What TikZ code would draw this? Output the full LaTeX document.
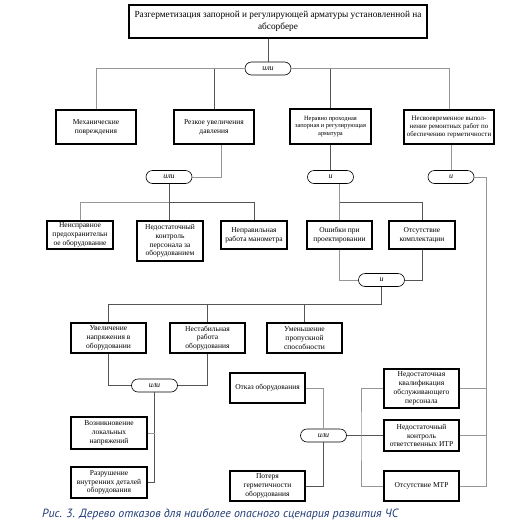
\documentclass[tikz,border=0pt]{standalone}
\usepackage{fontspec}
\setmainfont{Liberation Serif}
\newfontfamily\capfont{PT Sans}
\usetikzlibrary{calc}
\definecolor{capblue}{RGB}{32,58,118}
\definecolor{lnd}{RGB}{85,85,85}
\definecolor{lnl}{RGB}{150,150,150}
\begin{document}
\begin{tikzpicture}[x=1pt,y=-1pt,
  bx/.style={draw=black,line width=1.3pt,align=center,inner sep=1pt,font=\fontsize{7.5}{8.8}\selectfont},
  sbx/.style={bx,font=\fontsize{6.4}{7.4}\selectfont},
  gate/.style={draw=black,line width=0.6pt,rounded corners=6.5pt,minimum width=46pt,minimum height=13pt,inner sep=0pt,font=\fontsize{8}{8}\selectfont\itshape},
  cd/.style={draw=lnd,line width=0.9pt},
  cl/.style={draw=lnl,line width=0.9pt}]
\useasboundingbox (0,0) rectangle (509,528);
% top
\node[bx,minimum width=298pt,minimum height=33pt,font=\fontsize{9.3}{12}\selectfont] (top) at (278,21.5)
  {Разгерметизация запорной и регулирующей арматуры установленной на\\абсорбере};
\node[gate] (g1) at (268,68.5) {или};
% level 1
\node[bx,minimum width=80pt,minimum height=34pt] (b1) at (96,127) {Механические\\повреждения};
\node[bx,minimum width=80pt,minimum height=34pt] (b2) at (214,127) {Резкое увеличения\\давления};
\node[sbx,minimum width=81pt,minimum height=35pt] (b3) at (330.5,126.5) {Неравно проходная\\запорная и регулирующая\\арматура};
\node[sbx,minimum width=90pt,minimum height=34pt,font=\fontsize{6.9}{8}\selectfont] (b4) at (449,127) {Несвоевременное выпол-\\нение ремонтных работ по\\обеспечению герметичности};
% gates level 2
\node[gate] (g2) at (169,177) {или};
\node[gate] (g3) at (330.5,177) {и};
\node[gate] (g4) at (451,177) {и};
% level 2 boxes
\node[bx,minimum width=66pt,minimum height=28pt] (c1) at (80,235) {Неисправное\\предохранительн\\ое оборудование};
\node[bx,minimum width=66pt,minimum height=40pt] (c2) at (170,241) {Недостаточный\\контроль\\персонала за\\оборудованием};
\node[bx,minimum width=66pt,minimum height=28pt] (c3) at (254,235) {Неправильная\\работа манометра};
\node[bx,minimum width=65pt,minimum height=28pt] (c4) at (339.5,235) {Ошибки при\\проектировании};
\node[bx,minimum width=66pt,minimum height=28pt] (c5) at (422,235) {Отсутствие\\комплектации};
\node[gate] (g5) at (381.5,280) {и};
% level 3
\node[bx,minimum width=75pt,minimum height=30pt] (d1) at (108.5,338) {Увеличение\\напряжения в\\оборудовании};
\node[bx,minimum width=75pt,minimum height=30pt] (d2) at (207.5,338) {Нестабильная\\работа\\оборудования};
\node[bx,minimum width=75pt,minimum height=30pt] (d3) at (304.5,338) {Уменьшение\\пропускной\\способности};
\node[gate] (g6) at (154.5,385.5) {или};
\node[bx,minimum width=76pt,minimum height=32pt] (e1) at (109,433) {Возникновение\\локальных\\напряжений};
\node[bx,minimum width=76pt,minimum height=31pt] (e2) at (109,482.5) {Разрушение\\внутренних деталей\\оборудования};
% right bottom
\node[bx,minimum width=75pt,minimum height=30pt] (f1) at (267.5,388) {Отказ оборудования};
\node[bx,minimum width=75pt,minimum height=30pt] (f2) at (267.5,486) {Потеря\\герметичности\\оборудования};
\node[gate] (g7) at (323.5,435.5) {или};
\node[bx,minimum width=75pt,minimum height=39pt] (h1) at (421.5,388.5) {Недостаточная\\квалификация\\обслуживающего\\персонала};
\node[bx,minimum width=75pt,minimum height=31pt] (h2) at (421.5,435.5) {Недостаточный\\контроль\\ответственных ИТР};
\node[bx,minimum width=75pt,minimum height=30pt] (h3) at (421.5,486) {Отсутствие МТР};
% coordinates
\coordinate (j2) at (169,202);
\coordinate (j3) at (339.5,202);
\coordinate (j5) at (381.5,304);
\coordinate (vx) at (361,435.5);
\coordinate (rr) at (486,486);
% connectors
\draw[cd] (g1.north) -- (g1.north |- top.south);
\draw[cl] (g1.west) -| (b1.north);
\draw[cd] (g1.west -| b2.north) -- (b2.north);
\draw[cl] (g1.east) -| (b4.north);
\draw[cd] (g1.east -| b3.north) -- (b3.north);
\draw[cl] (g2.east) -| ([xshift=7pt]b2.south);
\draw[cd] (g3.north) -- (g3.north |- b3.south);
\draw[cl] (g4.north) -- (g4.north |- b4.south);
\draw[cl] (g4.east) -| (rr) -- (h3.east);
\draw[cl] (h1.east) -- (h1.east -| rr);
\draw[cl] (h2.east) -- (h2.east -| rr);
\draw[cd] (g2.south) -- (g2.south |- c2.north);
\draw[cl] (j2) -| (c1.north);
\draw[cd] (j2) -| (c3.north);
\draw[cl] (c4.north) -- (c4.north |- g3.south);
\draw[cd] (j3) -| (c5.north);
\draw[cl] (c4.south) |- (g5.west);
\draw[cd] (c5.south) |- (g5.east);
\draw[cd] (g5.south) -- (j5) -| (d1.north);
\draw[cd] (j5) -| (d2.north);
\draw[cd] (j5) -| (d3.north);
\draw[cd] (d1.south) |- (g6.west);
\draw[cd] (d2.south) |- (g6.east);
\draw[cd] (g6.south) |- (e2.east);
\draw[cl] (e1.east) -- (e1.east -| g6.south);
\draw[cl] (f1.east) -| (g7.north);
\draw[cd] (g7.south) |- (f2.east);
\draw[cd] (g7.east) -- (h2.west);
\draw[cl] (h1.west) -| (vx) |- (h3.west);
% caption
\node[anchor=west,inner sep=0pt,font=\capfont\itshape\fontsize{11.9}{13}\selectfont,text=capblue] (cap) at (42,514)
  {Рис. 3. Дерево отказов для наиболее опасного сценария развития ЧС};
\end{tikzpicture}
\end{document}
